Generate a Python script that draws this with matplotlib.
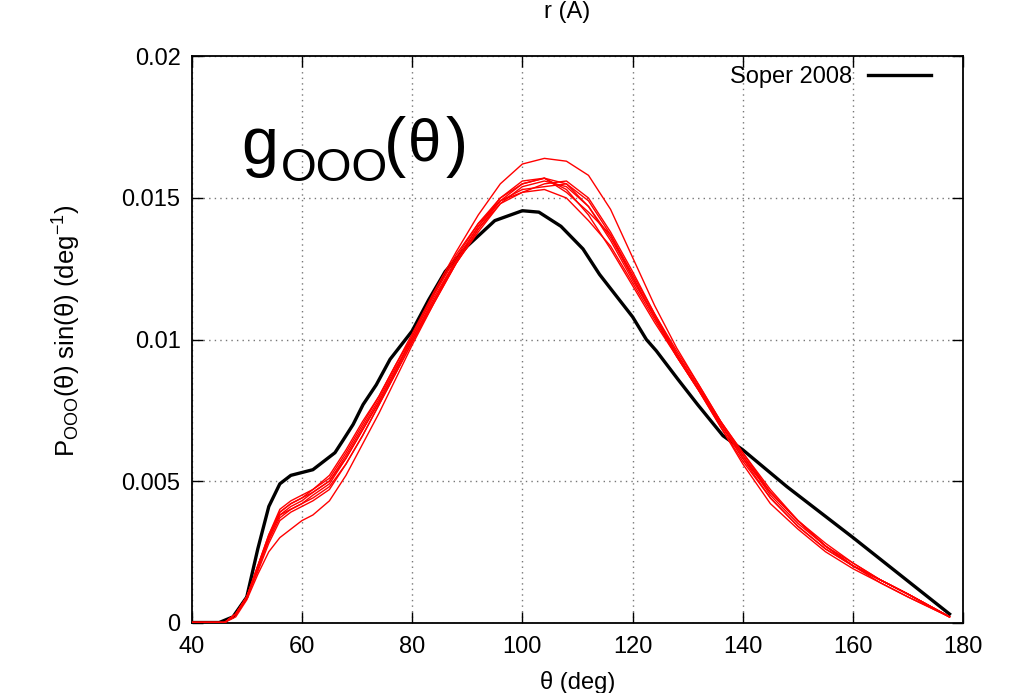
import matplotlib
matplotlib.use("Agg")
import matplotlib.pyplot as plt
from matplotlib.ticker import FuncFormatter

plt.rcParams['font.family'] = ['Liberation Sans', 'DejaVu Sans']
plt.rcParams['mathtext.fontset'] = 'custom'
plt.rcParams['mathtext.rm'] = 'Liberation Sans'
plt.rcParams['mathtext.it'] = 'Liberation Sans:italic'

# Soper 2008 (black)
soper_x = [40, 45, 47.5, 50, 52, 54, 56, 58, 60, 62, 64, 66, 67.5, 69.3, 71.1, 73.5, 76, 78, 80,
           83, 86, 90, 95, 100, 103, 107, 111, 114, 117.6, 120, 122.5, 124.3, 128.2, 131.8,
           136.4, 140, 148, 160, 177.5]
soper_y = [0, 0, 0.0002, 0.0009, 0.0026, 0.0041, 0.0049, 0.0052, 0.0053, 0.0054, 0.0057, 0.0060,
           0.00645, 0.0070, 0.0077, 0.0084, 0.0093, 0.0098, 0.0103, 0.0114, 0.0124, 0.0133,
           0.0142, 0.01455, 0.0145, 0.0140, 0.0132, 0.0123, 0.0114, 0.0108, 0.0100, 0.0096,
           0.0086, 0.0077, 0.0066, 0.0061, 0.0048, 0.0030, 0.0003]

# simulation curves (red)
sim_x = [40, 46, 48, 50, 52, 54, 56, 58, 60, 62, 65, 68, 71, 74, 77, 80, 84, 88, 92, 96, 100,
         104, 108, 112, 116, 120, 124, 128, 132, 136, 140, 145, 150, 155, 160, 165, 170, 177.5]
sim_1 = [0, 0, 0.0003, 0.0009, 0.0019, 0.0030, 0.0038, 0.0040, 0.0042, 0.0045, 0.0049, 0.0058,
         0.0068, 0.0078, 0.0089, 0.0100, 0.0114, 0.0127, 0.0139, 0.0148, 0.0154, 0.0156, 0.0154,
         0.0147, 0.0135, 0.0121, 0.0108, 0.0095, 0.0083, 0.0070, 0.0059, 0.0045, 0.0035, 0.0027,
         0.0020, 0.0015, 0.0010, 0.0002]
sim_2 = [0, 0, 0.0003, 0.0009, 0.0020, 0.0031, 0.0039, 0.0042, 0.0044, 0.0047, 0.0052, 0.0061,
         0.0071, 0.0080, 0.0091, 0.0102, 0.0117, 0.0131, 0.0144, 0.0155, 0.0162, 0.0164, 0.0163,
         0.0158, 0.0146, 0.0129, 0.0112, 0.0097, 0.0084, 0.0071, 0.0059, 0.0046, 0.0036, 0.0027,
         0.0020, 0.0015, 0.0010, 0.0002]
sim_3 = [0, 0, 0.0002, 0.0008, 0.0017, 0.0025, 0.0030, 0.0033, 0.0036, 0.0038, 0.0043, 0.0052,
         0.0063, 0.0074, 0.0086, 0.0098, 0.0113, 0.0127, 0.0139, 0.0149, 0.0155, 0.0157, 0.0155,
         0.0147, 0.0136, 0.0122, 0.0108, 0.0094, 0.0082, 0.0069, 0.0057, 0.0044, 0.0034, 0.0026,
         0.0020, 0.0015, 0.0010, 0.0002]
sim_4 = [0, 0, 0.0003, 0.0009, 0.0020, 0.0031, 0.0040, 0.0043, 0.0045, 0.0047, 0.0051, 0.0060,
         0.0070, 0.0080, 0.0091, 0.0101, 0.0116, 0.0130, 0.0141, 0.0149, 0.0152, 0.0153, 0.0150,
         0.0142, 0.0133, 0.0120, 0.0107, 0.0094, 0.0082, 0.0070, 0.0058, 0.0046, 0.0036, 0.0027,
         0.0021, 0.0015, 0.0010, 0.0002]
sim_5 = [0, 0, 0.0003, 0.0009, 0.0019, 0.0030, 0.0038, 0.0041, 0.0043, 0.0046, 0.0050, 0.0059,
         0.0069, 0.0079, 0.0090, 0.0100, 0.0115, 0.0128, 0.0140, 0.0150, 0.0156, 0.0157, 0.0152,
         0.0145, 0.0137, 0.0123, 0.0109, 0.0096, 0.0084, 0.0071, 0.0060, 0.0047, 0.0036, 0.0028,
         0.0021, 0.0015, 0.0010, 0.0002]
sim_6 = [0, 0, 0.0003, 0.0009, 0.0019, 0.0029, 0.0037, 0.0040, 0.0042, 0.0044, 0.0048, 0.0056,
         0.0066, 0.0077, 0.0088, 0.0099, 0.0113, 0.0127, 0.0138, 0.0148, 0.0152, 0.0155, 0.0156,
         0.0150, 0.0138, 0.0124, 0.0109, 0.0095, 0.0083, 0.0070, 0.0058, 0.0044, 0.0034, 0.0026,
         0.0020, 0.0014, 0.0009, 0.0002]
sim_7 = [0, 0, 0.0003, 0.0009, 0.0020, 0.0030, 0.0039, 0.0042, 0.0044, 0.0046, 0.0050, 0.0058,
         0.0068, 0.0078, 0.0089, 0.0101, 0.0116, 0.0129, 0.0141, 0.0150, 0.0155, 0.0157, 0.0153,
         0.0144, 0.0132, 0.0119, 0.0106, 0.0094, 0.0082, 0.0069, 0.0056, 0.0042, 0.0033, 0.0025,
         0.0019, 0.0014, 0.0009, 0.0002]
sim_8 = [0, 0, 0.0003, 0.0009, 0.0018, 0.0028, 0.0036, 0.0039, 0.0041, 0.0043, 0.0047, 0.0056,
         0.0066, 0.0077, 0.0088, 0.0099, 0.0114, 0.0128, 0.0140, 0.0149, 0.0153, 0.0154, 0.0155,
         0.0149, 0.0137, 0.0122, 0.0108, 0.0095, 0.0083, 0.0071, 0.0060, 0.0046, 0.0036, 0.0027,
         0.0020, 0.0015, 0.0010, 0.0002]
sims = [sim_1, sim_2, sim_3, sim_4, sim_5, sim_6, sim_7, sim_8]

x_ticks = [40, 60, 80, 100, 120, 140, 160, 180]
y_ticks = [0, 0.005, 0.01, 0.015, 0.02]

FS = 17

fig = plt.figure(figsize=(10.14, 6.93), dpi=100)
ax = fig.add_axes([0.189, 0.1017, 0.761, 0.8168])

ax.plot(soper_x, soper_y, color='black', lw=2.4, label='Soper 2008', zorder=3)
for s in sims:
    ax.plot(sim_x, s, color='red', lw=1.0, zorder=4)

ax.set_xlim(40, 180)
ax.set_ylim(0, 0.02)
ax.set_xticks(x_ticks)
ax.set_yticks(y_ticks)
ax.yaxis.set_major_formatter(FuncFormatter(lambda v, p: '%g' % v))
ax.tick_params(direction='in', length=8, width=1, top=True, right=True, labelsize=FS)
ax.tick_params(axis='x', pad=10)
ax.tick_params(axis='y', pad=8)
ax.grid(True, linestyle=(0, (1, 3)), color='#777777', linewidth=1)
for sp in ax.spines.values():
    sp.set_linewidth(1.3)

ax.set_xlabel('\u03b8 (deg)', fontsize=FS, va='top')
ax.xaxis.set_label_coords(0.5, -0.086)
ax.set_ylabel(r'$\mathrm{P_{OOO}(\theta)\ sin(\theta)\ (deg^{-1})}$', fontsize=18.5,
              va='center')
ax.yaxis.set_label_coords(-0.162, 0.516)

# big title inside the axes: g_OOO(θ)
ax.text(0.0648, 0.810, 'g', fontsize=48, va='baseline', ha='left', transform=ax.transAxes)
ax.text(0.1154, 0.780, 'OOO', fontsize=33, va='baseline', ha='left', transform=ax.transAxes)
ax.text(0.249, 0.810, '(', fontsize=48, va='baseline', ha='left', transform=ax.transAxes)
ax.text(0.280, 0.8154, '\u03b8', fontsize=43, va='baseline', ha='left', transform=ax.transAxes)
ax.text(0.329, 0.810, ')', fontsize=48, va='baseline', ha='left', transform=ax.transAxes)

ax.legend(loc='upper right', bbox_to_anchor=(0.971, 1.0), borderaxespad=0, frameon=False,
          markerfirst=False, fontsize=FS, handlelength=2.7, handletextpad=0.68)

fig.text(0.559, 0.982, 'r (A)', ha='center', va='center', fontsize=FS)

fig.savefig('out.png', dpi=100)
